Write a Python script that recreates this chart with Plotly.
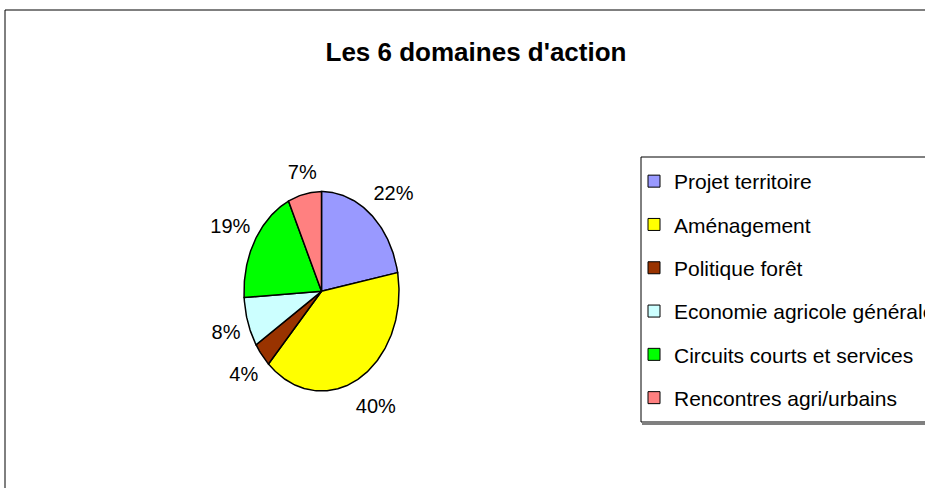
import numpy as np
import plotly.graph_objects as go

# ---- data ----
categories = ["Projet territoire", "Aménagement", "Politique forêt",
              "Economie agricole générale", "Circuits courts et services",
              "Rencontres agri/urbains"]
values = [22, 40, 4, 8, 19, 7]
colors = ["#9999FF", "#FFFF00", "#993300", "#CCFFFF", "#00FF00", "#FF8080"]
title_text = "Les 6 domaines d'action"

# ---- layout constants ----
W, H = 925, 488
FONT = "Liberation Sans, Arial, sans-serif"
# pie centre and radii (pixels)
CX, CY = 321.5, 291.3
RXP, RYP = 77.5, 99.7
KX, KY = 2.0, 1.9   # axis half-range in radius units (room for labels)

fig = go.Figure()

total = float(sum(values))
fracs = [v / total for v in values]
start = 0.0
mids = []
for cat, f, col in zip(categories, fracs, colors):
    th0 = start * 2 * np.pi
    th1 = (start + f) * 2 * np.pi
    n = max(int(f * 360), 4)
    th = np.linspace(th0, th1, n)
    xs = np.concatenate([[0.0], np.sin(th), [0.0]])
    ys = np.concatenate([[0.0], np.cos(th), [0.0]])
    fig.add_trace(go.Scatter(x=xs, y=ys, mode="lines", fill="toself",
                             fillcolor=col, line=dict(color="black", width=1.5),
                             showlegend=False, hoverinfo="skip"))
    mids.append((th0 + th1) / 2.0)
    start += f

# labels placed outside the slices
lab_x, lab_y, lab_t = [], [], []
for f, m in zip(fracs, mids):
    t = f"{round(f * 100):.0f}%"
    ux, uy = np.sin(m), np.cos(m)
    tw = 11.5 * len(t)
    th_ = 20.0
    d = 12 + abs(ux) * tw / 2 + abs(uy) * th_ / 2
    lab_x.append(ux + (ux * d + 3) / RXP)
    lab_y.append(uy + (uy * d - 4) / RYP)
    lab_t.append(t)
fig.add_trace(go.Scatter(x=lab_x, y=lab_y, text=lab_t, mode="text",
                         textfont=dict(family=FONT, size=20, color="black"),
                         textposition="middle center", showlegend=False,
                         hoverinfo="skip"))

# legend entries
for i, (cat, col) in enumerate(zip(categories, colors)):
    fig.add_trace(go.Scatter(x=[None], y=[None], mode="markers", name=cat,
                             legendgroup=f"g{i}",
                             marker=dict(symbol="square", size=12, color=col,
                                         line=dict(color="black", width=1))))

fig.update_layout(
    width=W, height=H,
    margin=dict(l=0, r=0, t=0, b=0, autoexpand=False),
    paper_bgcolor="white", plot_bgcolor="rgba(0,0,0,0)",
    font=dict(family=FONT, color="black"),
    title=dict(text=f"<b>{title_text}</b>", x=476 / W, y=1 - 52 / H,
               xanchor="center", yanchor="middle",
               font=dict(family=FONT, size=26, color="black")),
    xaxis=dict(domain=[(CX - KX * RXP) / W, (CX + KX * RXP) / W],
               range=[-KX, KX], visible=False, fixedrange=True),
    yaxis=dict(domain=[1 - (CY + KY * RYP) / H, 1 - (CY - KY * RYP) / H],
               range=[-KY, KY], visible=False, fixedrange=True),
    legend=dict(x=634 / W, y=1 - 161 / H, xanchor="left", yanchor="top",
                font=dict(family=FONT, size=21, color="black"),
                traceorder="grouped", tracegroupgap=13,
                bgcolor="rgba(0,0,0,0)", borderwidth=0),
    shapes=[
        dict(type="rect", xref="paper", yref="paper",
             x0=5 / W, x1=1.2, y0=-0.2, y1=1 - 10 / H,
             line=dict(color="black", width=1), fillcolor="rgba(0,0,0,0)", layer="below"),
        dict(type="line", xref="paper", yref="paper",
             x0=642 / W, x1=1.2, y0=1 - 424 / H, y1=1 - 424 / H,
             line=dict(color="#808080", width=2), layer="below"),
        dict(type="rect", xref="paper", yref="paper",
             x0=641 / W, x1=1.2, y0=1 - 422 / H, y1=1 - 157 / H,
             line=dict(color="black", width=1), fillcolor="white", layer="below"),
    ],
)

fig.write_html("out.html", config={"displayModeBar": False},
               post_script="document.body.style.margin='0';")
